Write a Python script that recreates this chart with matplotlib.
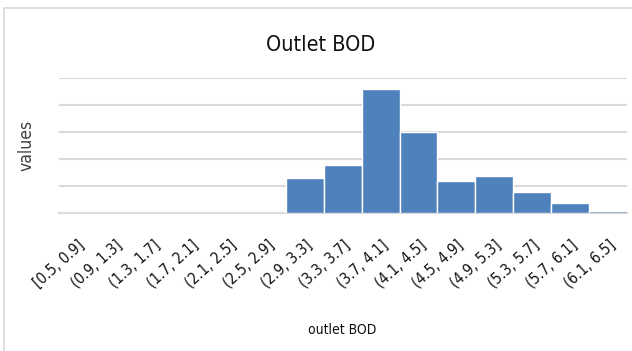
import matplotlib
matplotlib.use("Agg")
import matplotlib.pyplot as plt
from matplotlib import font_manager
from matplotlib.patches import Rectangle

names = {f.name for f in font_manager.fontManager.ttflist}
narrow = "Liberation Sans Narrow" if "Liberation Sans Narrow" in names else "DejaVu Sans"
plt.rcParams["font.family"] = [narrow, "DejaVu Sans"]
plt.rcParams["font.stretch"] = "condensed"

# histogram bins of outlet BOD and their counts
bins = ["[0.5, 0.9]", "(0.9, 1.3]", "(1.3, 1.7]", "(1.7, 2.1]", "(2.1, 2.5]",
        "(2.5, 2.9]", "(2.9, 3.3]", "(3.3, 3.7]", "(3.7, 4.1]", "(4.1, 4.5]",
        "(4.5, 4.9]", "(4.9, 5.3]", "(5.3, 5.7]", "(5.7, 6.1]", "(6.1, 6.5]"]
counts = [0, 0, 0, 0, 0, 0, 13, 18, 46, 30, 12, 14, 8, 4, 1]

fig = plt.figure(figsize=(6.32, 3.51), dpi=100)
# chart frame
fig.patches.append(Rectangle((4 / 632, -0.1), 1.2, 1 - 8 / 351 + 0.1,
                             transform=fig.transFigure, fill=False,
                             edgecolor="#d9d9d9", linewidth=1.2))

ax = fig.add_axes([0.0926, 0.392, 0.8994, 0.3846])
x = range(len(bins))
ax.bar(x, counts, width=1.0, color="#4f81bd", edgecolor="white", linewidth=1.0, zorder=3)
ax.set_xlim(-0.5, len(bins) - 0.5)
ax.set_ylim(0, 50)
ax.set_yticks([0, 10, 20, 30, 40, 50])
ax.set_yticklabels([])
ax.tick_params(axis="y", length=0)
ax.grid(axis="y", color="#d9d9d9", linewidth=1.5, zorder=0)
for s in ["top", "right", "left"]:
    ax.spines[s].set_visible(False)
ax.spines["bottom"].set_color("#d9d9d9")
ax.spines["bottom"].set_linewidth(1.5)

ax.set_xticks(list(x))
ax.set_xticklabels(bins, rotation=42, ha="right", rotation_mode="anchor",
                   fontsize=11, color="#111111")
ax.tick_params(axis="x", length=0, pad=17)

fig.text(0.508, 1 - 45 / 351, "Outlet BOD", ha="center", va="center",
         fontsize=15.5, color="#111111")
fig.text(0.541, 1 - 330 / 351, "outlet BOD", ha="center", va="center",
         fontsize=10, color="#111111")
fig.text(26.5 / 632, 1 - 145.5 / 351, "values", ha="center", va="center",
         rotation=90, fontsize=12.5, color="#404040")

fig.savefig("out.png", dpi=100)
